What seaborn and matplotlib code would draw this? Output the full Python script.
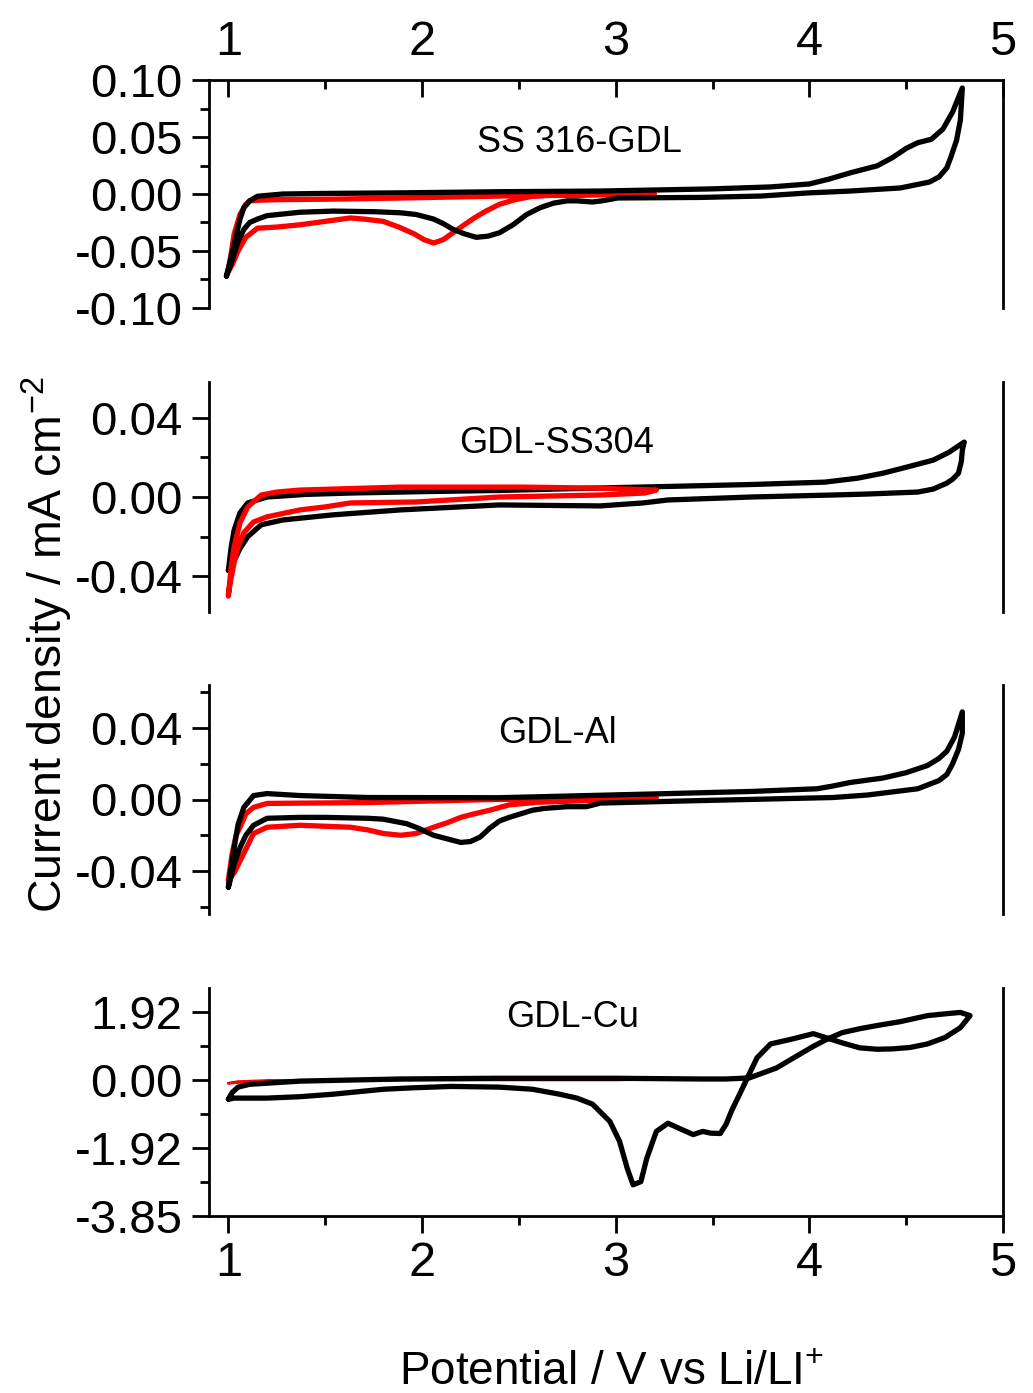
import matplotlib
matplotlib.use("Agg")
import matplotlib.pyplot as plt
from matplotlib.ticker import MultipleLocator, FixedLocator, FormatStrFormatter
import seaborn as sns

# ---- SS 316-GDL ----
ss316_black_x = [0.99, 1.01, 1.03, 1.06, 1.08, 1.11, 1.15, 1.28, 1.5, 1.89, 2.4, 2.92, 3.2, 3.5, 3.8, 4.0, 4.1, 4.21,
                 4.35, 4.43, 4.50, 4.56, 4.63, 4.69, 4.74, 4.79,
                 4.78, 4.76, 4.73, 4.71, 4.67, 4.62, 4.47, 4.2, 4.0, 3.75, 3.44, 3.01, 2.93, 2.88, 2.80, 2.75, 2.68,
                 2.61, 2.54, 2.47, 2.40, 2.34, 2.28, 2.22, 2.16, 2.11, 2.06, 1.97, 1.89, 1.75, 1.54, 1.37, 1.2, 1.15,
                 1.11, 1.08, 1.05, 1.02, 0.99]
ss316_black_y = [-0.072, -0.058, -0.044, -0.022, -0.012, -0.006, -0.002, 0.0, 0.0005, 0.001, 0.002, 0.0026, 0.0035,
                 0.0045, 0.0062, 0.0088, 0.013, 0.0185, 0.0247, 0.032, 0.040, 0.045, 0.048, 0.057, 0.072, 0.093,
                 0.065, 0.047, 0.032, 0.023, 0.015, 0.0105, 0.0053, 0.0025, 0.001, -0.0018, -0.003, -0.0035, -0.006,
                 -0.007, -0.006, -0.006, -0.008, -0.012, -0.018, -0.027, -0.034, -0.037, -0.038, -0.035, -0.031,
                 -0.026, -0.022, -0.018, -0.0165, -0.0155, -0.015, -0.016, -0.019, -0.022, -0.025, -0.031, -0.042,
                 -0.058, -0.072]
ss316_red_x = [1.00, 1.03, 1.06, 1.09, 1.11, 1.15, 1.25, 1.54, 1.9, 2.2, 2.5, 2.8, 3.0, 3.2,
               3.0, 2.8, 2.68, 2.57, 2.48, 2.40, 2.33, 2.27, 2.21, 2.16, 2.11, 2.06, 2.01, 1.96, 1.88, 1.80, 1.70,
               1.63, 1.5, 1.37, 1.25, 1.15, 1.09, 1.05, 1.02, 1.00]
ss316_red_y = [-0.068, -0.035, -0.018, -0.009, -0.006, -0.0055, -0.005, -0.0045, -0.0035, -0.0025, -0.0015, -0.001,
               -0.0005, 0.0,
               -0.0003, -0.0006, -0.001, -0.002, -0.005, -0.009, -0.015, -0.021, -0.028, -0.034, -0.040, -0.043,
               -0.040, -0.035, -0.029, -0.024, -0.022, -0.021, -0.024, -0.027, -0.029, -0.030, -0.038, -0.050,
               -0.062, -0.068]

# ---- GDL-SS304 ----
ss304_black_x = [1.00, 1.015, 1.03, 1.06, 1.10, 1.2, 1.4, 1.63, 2.0, 2.4, 2.9, 3.35, 3.7, 4.08, 4.25, 4.38, 4.5, 4.64,
                 4.72, 4.80,
                 4.79, 4.785, 4.77, 4.74, 4.71, 4.64, 4.56, 4.3, 4.12, 3.7, 3.27, 3.14, 2.92, 2.4, 1.89, 1.54, 1.28,
                 1.17, 1.10, 1.06, 1.04, 1.00]
ss304_black_y = [-0.037, -0.025, -0.0166, -0.008, -0.003, 0.0, 0.0013, 0.002, 0.0027, 0.0033, 0.0045, 0.0055, 0.0063,
                 0.0075, 0.0095, 0.012, 0.015, 0.0186, 0.0225, 0.0277,
                 0.0236, 0.018, 0.012, 0.009, 0.007, 0.004, 0.0025, 0.0015, 0.001, 0.0, -0.0015, -0.003, -0.0045,
                 -0.004, -0.0065, -0.009, -0.0116, -0.014, -0.020, -0.026, -0.030, -0.037]
ss304_red_x = [1.00, 1.015, 1.03, 1.06, 1.10, 1.17, 1.25, 1.37, 1.89, 2.51, 2.9, 3.21,
               3.15, 2.92, 2.40, 1.97, 1.63, 1.50, 1.37, 1.2, 1.13, 1.08, 1.05, 1.03, 1.01, 1.00]
ss304_red_y = [-0.050, -0.035, -0.025, -0.013, -0.005, 0.001, 0.0025, 0.0035, 0.005, 0.005, 0.0045, 0.0035,
               0.002, 0.001, 0.0, -0.0025, -0.003, -0.005, -0.0065, -0.010, -0.0126, -0.018, -0.025, -0.033,
               -0.043, -0.049]

# ---- GDL-Al ----
al_black_x = [1.00, 1.015, 1.03, 1.05, 1.08, 1.13, 1.2, 1.37, 1.72, 2.4, 3.27, 3.7, 4.04, 4.12, 4.21, 4.38, 4.5, 4.61,
              4.67, 4.71, 4.75, 4.79,
              4.79, 4.77, 4.74, 4.71, 4.67, 4.56, 4.3, 4.12, 3.44, 2.92, 2.85, 2.75, 2.63, 2.57, 2.51, 2.45, 2.40,
              2.35, 2.30, 2.25, 2.20, 2.13, 2.06, 1.98, 1.92, 1.80, 1.72, 1.5, 1.37, 1.2, 1.13, 1.09, 1.06, 1.03,
              1.01, 1.00]
al_black_y = [-0.049, -0.037, -0.027, -0.014, -0.0044, 0.0022, 0.0033, 0.0022, 0.0011, 0.001, 0.0033, 0.0045, 0.006,
              0.0075, 0.0095, 0.012, 0.015, 0.019, 0.023, 0.027, 0.035, 0.049,
              0.037, 0.028, 0.020, 0.014, 0.0106, 0.006, 0.0025, 0.0011, -0.0006, -0.002, -0.004, -0.004, -0.005,
              -0.006, -0.008, -0.010, -0.012, -0.016, -0.021, -0.0235, -0.024, -0.022, -0.020, -0.016, -0.0135,
              -0.011, -0.0105, -0.010, -0.010, -0.0105, -0.0144, -0.020, -0.027, -0.036, -0.045, -0.049]
al_red_x = [1.00, 1.02, 1.04, 1.06, 1.09, 1.13, 1.2, 1.72, 2.37, 2.8, 3.21,
            2.9, 2.6, 2.45, 2.35, 2.27, 2.20, 2.13, 2.06, 1.97, 1.89, 1.80, 1.72, 1.63, 1.37, 1.2, 1.13, 1.08,
            1.03, 1.00]
al_red_y = [-0.045, -0.030, -0.020, -0.0155, -0.008, -0.0044, -0.0022, -0.0017, 0.0, 0.0005, 0.001,
            -0.0005, -0.0015, -0.003, -0.006, -0.008, -0.010, -0.013, -0.0155, -0.019, -0.020, -0.019, -0.017,
            -0.0155, -0.0144, -0.0155, -0.019, -0.030, -0.041, -0.045]

# ---- GDL-Cu ----
cu_black_x = [1.00, 1.02, 1.05, 1.11, 1.37, 1.89, 2.37, 3.0, 3.44, 3.57, 3.69, 3.76, 3.83, 3.92, 4.02, 4.09, 4.17,
              4.26, 4.35, 4.47, 4.61, 4.72, 4.78, 4.83,
              4.78, 4.70, 4.61, 4.52, 4.43, 4.35, 4.26, 4.17, 4.09, 4.02, 3.92, 3.80, 3.73, 3.68, 3.64, 3.60, 3.57,
              3.54, 3.49, 3.45, 3.40, 3.33, 3.27, 3.21, 3.16, 3.13, 3.09, 3.06, 3.02, 2.97, 2.88, 2.80, 2.71, 2.57,
              2.40, 2.15, 1.95, 1.80, 1.54, 1.37, 1.2, 1.03, 1.00]
cu_black_y = [-0.54, -0.35, -0.20, -0.12, -0.03, 0.03, 0.05, 0.05, 0.03, 0.03, 0.06, 0.20, 0.34, 0.63, 0.95, 1.15,
              1.34, 1.45, 1.54, 1.65, 1.82, 1.88, 1.91, 1.82,
              1.48, 1.20, 1.02, 0.92, 0.88, 0.87, 0.91, 1.05, 1.19, 1.31, 1.17, 1.02, 0.63, 0.06, -0.40, -0.85,
              -1.25, -1.51, -1.50, -1.45, -1.54, -1.37, -1.22, -1.45, -2.22, -2.87, -2.96, -2.50, -1.73, -1.17,
              -0.68, -0.51, -0.40, -0.26, -0.20, -0.18, -0.22, -0.26, -0.40, -0.47, -0.51, -0.51, -0.54]
cu_red_x = [1.00, 1.05, 1.2, 1.5, 2.0, 2.5, 3.0, 3.21, 3.0, 2.0, 1.2, 1.00]
cu_red_y = [-0.09, -0.04, -0.01, 0.0, 0.01, 0.02, 0.02, 0.02, 0.0, 0.0, -0.03, -0.09]

panel_labels = ["SS 316-GDL", "GDL-SS304", "GDL-Al", "GDL-Cu"]
x_ticks = [1, 2, 3, 4, 5]
cu_ticks = [1.92, 0.0, -1.92, -3.84]
cu_tick_labels = ["1.92", "0.00", "-1.92", "-3.85"]

sns.set_theme(style="ticks")
plt.rcParams['font.family'] = ['Liberation Sans', 'DejaVu Sans']
plt.rcParams['mathtext.fontset'] = 'custom'
plt.rcParams['mathtext.rm'] = 'Liberation Sans'
plt.rcParams['mathtext.it'] = 'Liberation Sans:italic'
plt.rcParams['axes.unicode_minus'] = False
plt.rcParams['text.color'] = 'black'

W, H = 1033, 1393
fig = plt.figure(figsize=(W / 100, H / 100), dpi=100)


def box(top, bottom, left=209, right=1003):
    return [left / W, 1 - bottom / H, (right - left) / W, (bottom - top) / H]


axes = [fig.add_axes(box(80, 308)), fig.add_axes(box(382, 612)),
        fig.add_axes(box(685, 914)), fig.add_axes(box(988, 1216))]

curves = [
    (ss316_black_x, ss316_black_y, ss316_red_x, ss316_red_y, 3.8, False),
    (ss304_black_x, ss304_black_y, ss304_red_x, ss304_red_y, 3.8, True),
    (al_black_x, al_black_y, al_red_x, al_red_y, 3.8, False),
    (cu_black_x, cu_black_y, cu_red_x, cu_red_y, 1.8, False),
]

for ax, (bx, by, rx, ry, red_lw, red_on_top) in zip(axes, curves):
    sns.lineplot(x=bx, y=by, sort=False, estimator=None, color="black", linewidth=3.8,
                 solid_joinstyle="round", solid_capstyle="round", ax=ax, zorder=3)
    sns.lineplot(x=rx, y=ry, sort=False, estimator=None, color="#ff0000", linewidth=red_lw,
                 solid_joinstyle="round", solid_capstyle="round", ax=ax, zorder=4 if red_on_top else 2)
    ax.set_xlim(0.9, 5.0)
    for s in ax.spines.values():
        s.set_linewidth(2)
        s.set_color("black")
    ax.spines['top'].set_visible(False)
    ax.spines['bottom'].set_visible(False)
    ax.tick_params(axis='y', which='both', direction='out', left=True, right=False,
                   width=2, labelsize=34, pad=7, colors='black')
    ax.tick_params(axis='y', which='major', length=12)
    ax.tick_params(axis='y', which='minor', length=6.5)
    ax.tick_params(axis='x', which='both', bottom=False, top=False, labelbottom=False, labeltop=False)
    ax.xaxis.set_major_locator(FixedLocator(x_ticks))
    ax.xaxis.set_minor_locator(MultipleLocator(0.5))
    ax.set_xlabel("")
    ax.set_ylabel("")

# top panel
ax = axes[0]
ax.set_ylim(-0.10, 0.10)
ax.yaxis.set_major_locator(MultipleLocator(0.05))
ax.yaxis.set_minor_locator(MultipleLocator(0.025))
ax.yaxis.set_major_formatter(FormatStrFormatter('%.2f'))
ax.spines['top'].set_visible(True)
ax.tick_params(axis='x', which='both', top=True, labeltop=True, direction='in', width=2,
               labelsize=35, pad=11, colors='black')
ax.tick_params(axis='x', which='major', length=12)
ax.tick_params(axis='x', which='minor', length=6.5)

for ax, lim in zip(axes[1:3], [(-0.058, 0.058), (-0.064, 0.064)]):
    ax.set_ylim(*lim)
    ax.yaxis.set_major_locator(MultipleLocator(0.04))
    ax.yaxis.set_minor_locator(MultipleLocator(0.02))
    ax.yaxis.set_major_formatter(FormatStrFormatter('%.2f'))

# bottom panel
ax = axes[3]
ax.set_ylim(-3.84, 2.60)
ax.yaxis.set_major_locator(FixedLocator(cu_ticks))
ax.set_yticklabels(cu_tick_labels)
ax.yaxis.set_minor_locator(FixedLocator([0.96, -0.96, -2.88]))
ax.spines['bottom'].set_visible(True)
ax.tick_params(axis='x', which='both', bottom=True, labelbottom=True, direction='out', width=2,
               labelsize=35, pad=6, colors='black')
ax.tick_params(axis='x', which='major', length=12)
ax.tick_params(axis='x', which='minor', length=6.5)

# panel names
label_pos = [(0.467, 0.684), (0.438, 0.691), (0.439, 0.747), (0.458, 0.829)]
for ax, name, (tx, ty) in zip(axes, panel_labels, label_pos):
    ax.text(tx, ty, name, transform=ax.transAxes, ha='center', va='baseline', fontsize=26, color='black')

fig.text(62 / W, 1 - 645 / H, "Current density / mA cm$^{-2}$", rotation=90, rotation_mode='anchor',
         ha='center', va='baseline', fontsize=33.5, color='black')
fig.text(612 / W, 1 - 1385 / H, "Potential / V vs Li/LI$^{+}$", ha='center', va='baseline', fontsize=33,
         color='black')

fig.savefig("out.png", dpi=100, facecolor="white")
